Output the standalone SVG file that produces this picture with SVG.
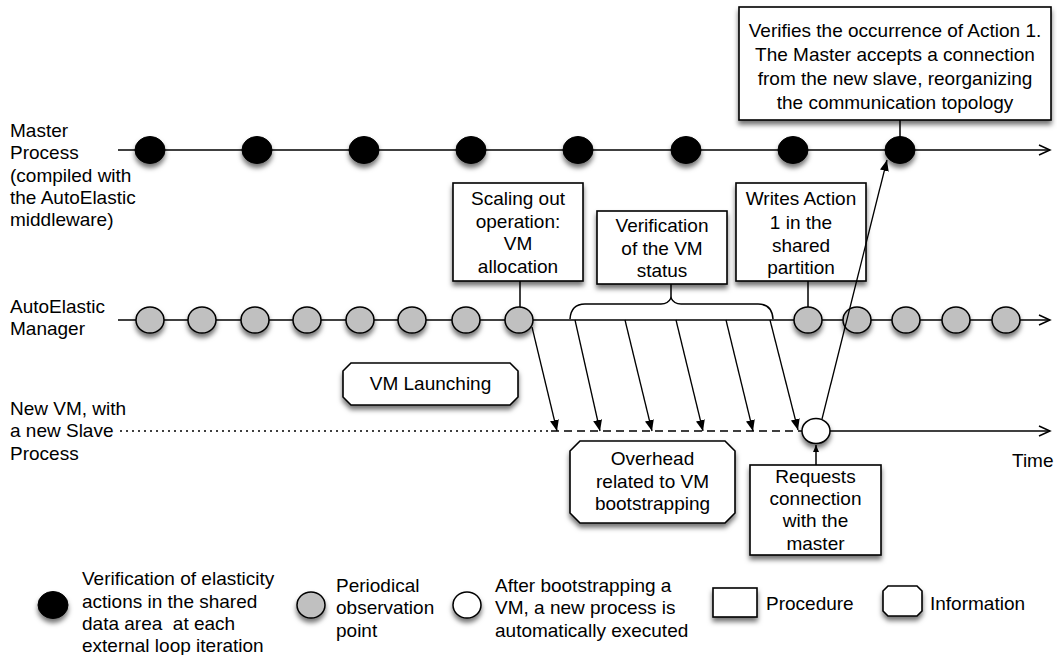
<svg xmlns="http://www.w3.org/2000/svg" width="1057" height="655" viewBox="0 0 1057 655">
<defs>
<style>
.t{font-family:"Liberation Sans",Arial,Helvetica,sans-serif;font-size:19px;fill:#000}
.c{text-anchor:middle}
.pre{white-space:pre}
.ln{stroke:#000;stroke-width:1.5;fill:none}
.box{fill:#fff;stroke:#000;stroke-width:1.6;filter:url(#sh)}
.blk{fill:#000;stroke:#000;stroke-width:1;filter:url(#sh)}
.gry{fill:#c0c0c0;stroke:#000;stroke-width:1.5;filter:url(#sh)}
.wht{fill:#fff;stroke:#000;stroke-width:1.5;filter:url(#sh)}
.ar{stroke:#000;stroke-width:1.3;fill:none;marker-end:url(#ah)}
</style>
<filter id="sh" x="-40%" y="-40%" width="180%" height="200%">
<feDropShadow dx="0" dy="4" stdDeviation="2.5" flood-color="#000" flood-opacity="0.55"/>
</filter>
<marker id="ah" markerUnits="userSpaceOnUse" markerWidth="12" markerHeight="10" refX="11" refY="4.5" orient="auto">
<path d="M0,0 L11,4.5 L0,9 z" fill="#000"/>
</marker>
<marker id="ahs" markerUnits="userSpaceOnUse" markerWidth="8" markerHeight="8" refX="7" refY="3" orient="auto">
<path d="M0,0 L7,3 L0,6 z" fill="#000"/>
</marker>
</defs>
<rect width="1057" height="655" fill="#fff"/>

<g id="labels">
<text class="t" x="10" y="137">Master</text>
<text class="t" x="10" y="159">Process</text>
<text class="t" x="10" y="181.5">(compiled with</text>
<text class="t" x="10" y="203.5">the AutoElastic</text>
<text class="t" x="10" y="225.5">middleware)</text>
<text class="t" x="10" y="312.5">AutoElastic</text>
<text class="t" x="10" y="334.5">Manager</text>
<text class="t" x="10" y="415">New VM, with</text>
<text class="t" x="10" y="437">a new Slave</text>
<text class="t" x="10" y="459.5">Process</text>
<text class="t" x="1012" y="467">Time</text>
</g>

<g id="timelines">
<line class="ln" x1="118" y1="150" x2="1050" y2="150"/>
<polyline class="ln" points="1039,145 1050,150 1039,155"/>
<line class="ln" x1="118" y1="320" x2="1050" y2="320"/>
<polyline class="ln" points="1039,315 1050,320 1039,325"/>
<line class="ln" x1="120" y1="431" x2="551" y2="431" stroke-dasharray="2,4"/>
<line class="ln" x1="551" y1="431" x2="803" y2="431" stroke-dasharray="8,5"/>
<line class="ln" x1="829" y1="431" x2="1050" y2="431"/>
<polyline class="ln" points="1039,426 1050,431 1039,436"/>
</g>

<g id="master-points">
<ellipse class="blk" cx="150" cy="150" rx="15" ry="13.5"/>
<ellipse class="blk" cx="257" cy="150" rx="15" ry="13.5"/>
<ellipse class="blk" cx="364" cy="150" rx="15" ry="13.5"/>
<ellipse class="blk" cx="471" cy="150" rx="15" ry="13.5"/>
<ellipse class="blk" cx="578" cy="150" rx="15" ry="13.5"/>
<ellipse class="blk" cx="686" cy="150" rx="15" ry="13.5"/>
<ellipse class="blk" cx="793" cy="150" rx="15" ry="13.5"/>
<ellipse class="blk" cx="900" cy="150" rx="15" ry="13.5"/>
</g>

<g id="manager-points">
<ellipse class="gry" cx="150" cy="320" rx="14" ry="13"/>
<ellipse class="gry" cx="202" cy="320" rx="14" ry="13"/>
<ellipse class="gry" cx="255" cy="320" rx="14" ry="13"/>
<ellipse class="gry" cx="307" cy="320" rx="14" ry="13"/>
<ellipse class="gry" cx="360" cy="320" rx="14" ry="13"/>
<ellipse class="gry" cx="412" cy="320" rx="14" ry="13"/>
<ellipse class="gry" cx="466" cy="320" rx="14" ry="13"/>
<ellipse class="gry" cx="519" cy="320" rx="14" ry="13"/>
<ellipse class="gry" cx="808" cy="320" rx="14" ry="13"/>
<ellipse class="gry" cx="857" cy="320" rx="14" ry="13"/>
<ellipse class="gry" cx="906" cy="320" rx="14" ry="13"/>
<ellipse class="gry" cx="956" cy="320" rx="14" ry="13"/>
<ellipse class="gry" cx="1006" cy="320" rx="14" ry="13"/>
</g>

<g id="slave-start">
<ellipse class="wht" cx="816" cy="431" rx="14" ry="12.5"/>
</g>

<g id="box-verifies">
<rect class="box" x="739" y="7" width="312" height="113"/>
<text class="t c" x="895" y="36.5">Verifies the occurrence of Action 1.</text>
<text class="t c" x="895" y="60.5">The Master accepts a connection</text>
<text class="t c" x="895" y="84.5">from the new slave, reorganizing</text>
<text class="t c" x="895" y="108.5">the communication topology</text>
</g>

<g id="box-scaling">
<rect class="box" x="453" y="183" width="130" height="98"/>
<text class="t c" x="518" y="204.5">Scaling out</text>
<text class="t c" x="518" y="227.5">operation:</text>
<text class="t c" x="518" y="249.5">VM</text>
<text class="t c" x="518" y="272.5">allocation</text>
</g>

<g id="box-verification">
<rect class="box" x="597" y="211" width="130" height="73"/>
<text class="t c" x="662" y="231.5">Verification</text>
<text class="t c" x="662" y="254.5">of the VM</text>
<text class="t c" x="662" y="276.5">status</text>
</g>

<g id="box-writes">
<rect class="box" x="736" y="183" width="130" height="98"/>
<text class="t c" x="801" y="205">Writes Action</text>
<text class="t c" x="801" y="228.5">1 in the</text>
<text class="t c" x="801" y="251.5">shared</text>
<text class="t c" x="801" y="273.5">partition</text>
</g>

<g id="info-launching">
<polygon class="box" points="351,363 510,363 518,371 518,397 510,405 351,405 343,397 343,371"/>
<text class="t c" x="430.5" y="390">VM Launching</text>
</g>

<g id="info-overhead">
<polygon class="box" points="580,441 725,441 735,451 735,513 725,523 580,523 570,513 570,451"/>
<text class="t c" x="652.5" y="464.5">Overhead</text>
<text class="t c" x="652.5" y="488">related to VM</text>
<text class="t c" x="652.5" y="510">bootstrapping</text>
</g>

<g id="box-requests">
<rect class="box" x="750" y="465" width="131" height="90"/>
<text class="t c" x="815.5" y="482.5">Requests</text>
<text class="t c" x="815.5" y="504.5">connection</text>
<text class="t c" x="815.5" y="526.5">with the</text>
<text class="t c" x="815.5" y="549.5">master</text>
</g>

<g id="connectors">
<line class="ln" x1="900" y1="120" x2="900" y2="137"/>
<line class="ln" x1="520" y1="281" x2="520" y2="307"/>
<line class="ln" x1="808" y1="281" x2="808" y2="307"/>
<path class="ln" d="M570,319 Q571,304 585,304 L661,304 Q668,304 671,298 Q674,304 681,304 L758,304 Q772,304 773,319"/>
<line class="ln" x1="671" y1="284" x2="671" y2="298"/>
<line class="ar" x1="532" y1="327" x2="557" y2="431"/>
<line class="ar" x1="575" y1="320" x2="600" y2="431"/>
<line class="ar" x1="625" y1="320" x2="652" y2="431"/>
<line class="ar" x1="676" y1="320" x2="703" y2="431"/>
<line class="ar" x1="726" y1="320" x2="753" y2="431"/>
<line class="ar" x1="770" y1="320" x2="798" y2="430"/>
<line class="ar" x1="822" y1="419" x2="887" y2="160"/>
<line class="ln" x1="816" y1="465" x2="816" y2="445" marker-end="url(#ahs)"/>
</g>

<g id="legend">
<ellipse class="blk" cx="53" cy="605" rx="15" ry="13.5"/>
<text class="t" x="82" y="584.5">Verification of elasticity</text>
<text class="t" x="82" y="607.5">actions in the shared</text>
<text class="t pre" x="82" y="629.5">data area  at each</text>
<text class="t" x="82" y="651.5">external loop iteration</text>
<ellipse class="gry" cx="311" cy="605" rx="14" ry="13"/>
<text class="t" x="336" y="591.5">Periodical</text>
<text class="t" x="336" y="613.5">observation</text>
<text class="t" x="336" y="636.5">point</text>
<ellipse class="wht" cx="467" cy="605" rx="14" ry="13"/>
<text class="t" x="495" y="591.5">After bootstrapping a</text>
<text class="t" x="495" y="613.5">VM, a new process is</text>
<text class="t" x="495" y="636.5">automatically executed</text>
<rect class="box" x="713" y="588" width="44" height="29"/>
<text class="t" x="766" y="609.5">Procedure</text>
<polygon class="box" points="888,586 917,586 922,591 922,611 917,616 888,616 883,611 883,591"/>
<text class="t" x="930" y="609.5">Information</text>
</g>
</svg>
